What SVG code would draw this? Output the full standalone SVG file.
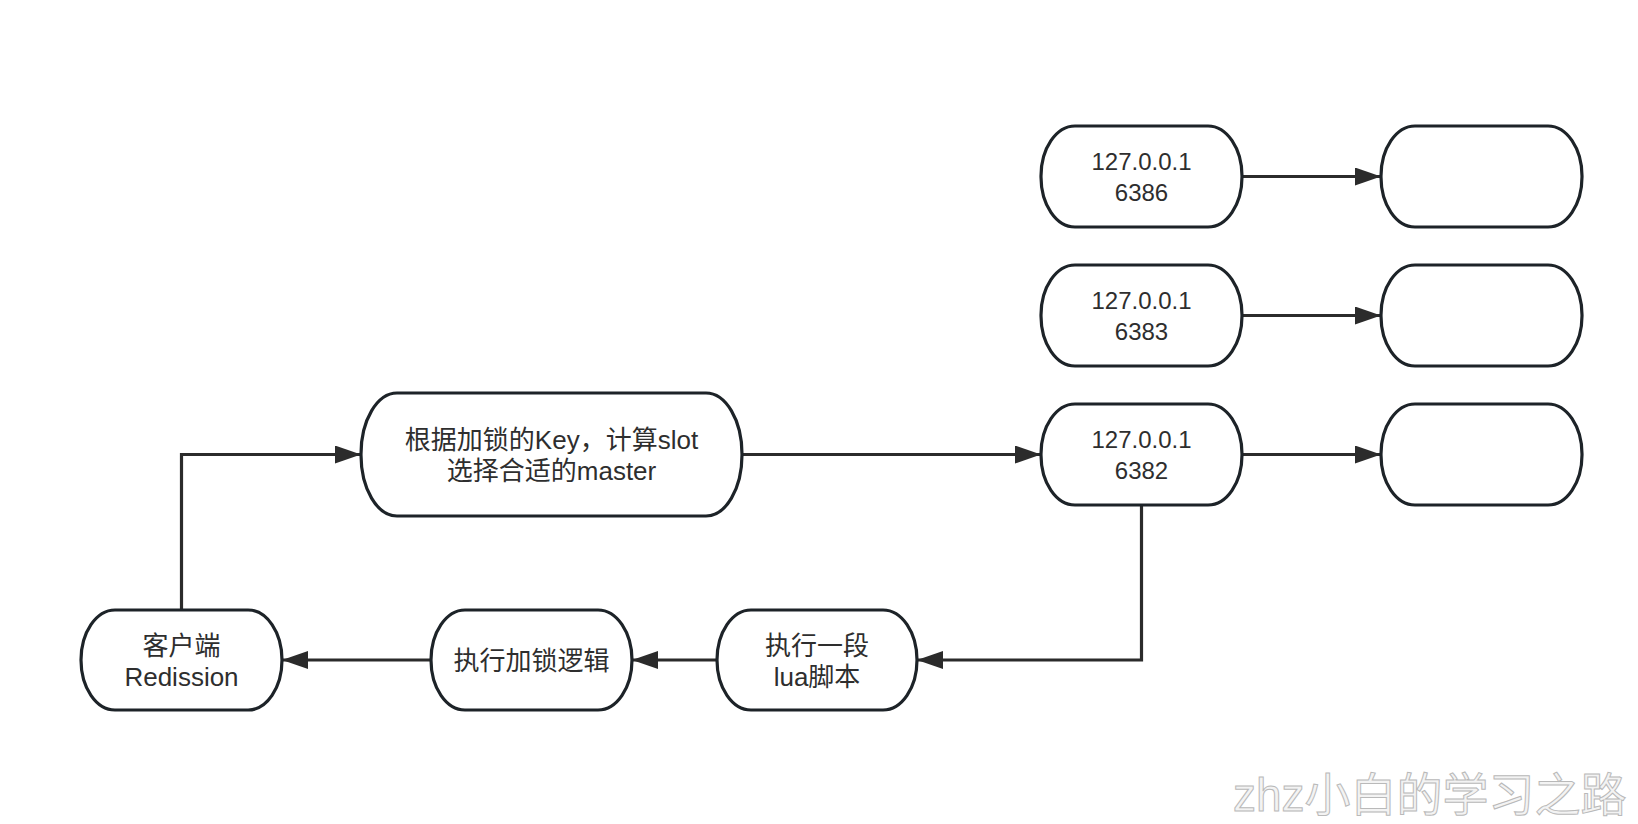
<svg xmlns="http://www.w3.org/2000/svg" width="1638" height="824" viewBox="0 0 1638 824">
<style>
.node rect{fill:#ffffff;stroke:#1d2328;stroke-width:3.2}
.conn path{fill:none;stroke:#2b2b2b;stroke-width:3.2}
text{font-family:"Liberation Sans","Noto Sans CJK SC",sans-serif;fill:#2e2e2e;text-anchor:middle}
.t{font-size:26px}
.ip{font-size:24px}
.wm{font-size:46px;fill:#f3f3f3;stroke:#b9b9b9;stroke-width:1;text-anchor:start}
</style>
<defs>
<marker id="arr" viewBox="0 0 26 18" refX="26" refY="9" markerWidth="26" markerHeight="18" markerUnits="userSpaceOnUse" orient="auto">
<path d="M0,0 L26,9 L0,18 z" fill="#2b2b2b"/>
</marker>
</defs>
<rect width="1638" height="824" fill="#ffffff"/>
<g id="connectors" class="conn">
<path d="M181.5,610 V454.5 H361" marker-end="url(#arr)"/>
<path d="M742,454.5 H1041" marker-end="url(#arr)"/>
<path d="M1242,176.5 H1381" marker-end="url(#arr)"/>
<path d="M1242,315.5 H1381" marker-end="url(#arr)"/>
<path d="M1242,454.5 H1381" marker-end="url(#arr)"/>
<path d="M1141.5,505 V660 H917" marker-end="url(#arr)"/>
<path d="M717,660 H632" marker-end="url(#arr)"/>
<path d="M431,660 H282" marker-end="url(#arr)"/>
</g>
<g id="node-6386" class="node">
<rect x="1041" y="126" width="201" height="101" rx="34" ry="50"/>
<text class="ip" x="1141.5" y="170">127.0.0.1</text>
<text class="ip" x="1141.5" y="201">6386</text>
</g>
<g id="node-6386-slave" class="node">
<rect x="1381" y="126" width="201" height="101" rx="34" ry="50"/>
</g>
<g id="node-6383" class="node">
<rect x="1041" y="265" width="201" height="101" rx="34" ry="50"/>
<text class="ip" x="1141.5" y="309">127.0.0.1</text>
<text class="ip" x="1141.5" y="340">6383</text>
</g>
<g id="node-6383-slave" class="node">
<rect x="1381" y="265" width="201" height="101" rx="34" ry="50"/>
</g>
<g id="node-6382" class="node">
<rect x="1041" y="404" width="201" height="101" rx="34" ry="50"/>
<text class="ip" x="1141.5" y="448">127.0.0.1</text>
<text class="ip" x="1141.5" y="479">6382</text>
</g>
<g id="node-6382-slave" class="node">
<rect x="1381" y="404" width="201" height="101" rx="34" ry="50"/>
</g>
<g id="node-slot" class="node">
<rect x="361" y="393" width="381" height="123" rx="36" ry="61"/>
<text class="t" x="551.5" y="449">根据加锁的Key，计算slot</text>
<text class="t" x="551.5" y="480">选择合适的master</text>
</g>
<g id="node-client" class="node">
<rect x="81" y="610" width="201" height="100" rx="34" ry="50"/>
<text class="t" x="181.5" y="655">客户端</text>
<text class="t" x="181.5" y="686">Redission</text>
</g>
<g id="node-lock" class="node">
<rect x="431" y="610" width="201" height="100" rx="34" ry="50"/>
<text class="t" x="531.5" y="670">执行加锁逻辑</text>
</g>
<g id="node-lua" class="node">
<rect x="717" y="610" width="200" height="100" rx="34" ry="50"/>
<text class="t" x="817" y="655">执行一段</text>
<text class="t" x="817" y="686">lua脚本</text>
</g>
<text class="wm" x="1233" y="811">zhz小白的学习之路</text>
</svg>
